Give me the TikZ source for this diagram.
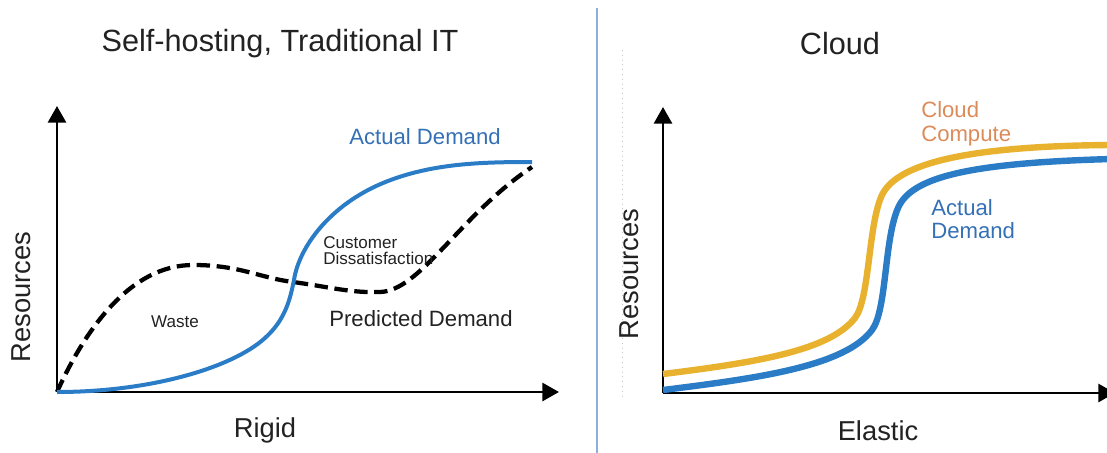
\documentclass[tikz,border=0pt]{standalone}
\usepackage{fontspec}
\setmainfont{Liberation Sans}
\usetikzlibrary{arrows.meta}
\definecolor{demandblue}{HTML}{2A7CC6}
\definecolor{computeyellow}{HTML}{E8B22E}
\definecolor{labelblue}{HTML}{3470B5}
\definecolor{labelorange}{HTML}{DB8B5A}
\definecolor{dividerblue}{HTML}{8CB0DA}
\definecolor{ink}{HTML}{222222}
\tikzstyle{axisline}=[draw,line width=2.2pt,-{Triangle[length=12.5pt,width=13.5pt]}]
\tikzstyle{actual}=[draw=demandblue,line width=3pt]
\tikzstyle{predicted}=[draw=black,line width=3.2pt,dash pattern=on 10pt off 5pt]
\tikzstyle{cloudline}=[line width=4.8pt]
\tikzstyle{heading}=[inner sep=0pt,text=ink,font=\fontsize{23}{27}\selectfont]
\tikzstyle{axistxt}=[inner sep=0pt,text=ink,font=\fontsize{20.5}{24}\selectfont]
\tikzstyle{curvetxt}=[inner sep=0pt,font=\fontsize{16.6}{18}\selectfont]
\tikzstyle{smalltxt}=[inner sep=0pt,text=ink,align=left,font=\fontsize{12.8}{12}\selectfont]

\begin{document}
\begin{tikzpicture}[x=0.75pt,y=-0.75pt]
    \useasboundingbox (0,0) rectangle (1107,453);

    % Separator between the two charts
    \draw[dividerblue,line width=1.6pt] (597,8) -- (597,453);
    \draw[gray!45,line width=0.6pt,dash pattern=on 0.6pt off 3pt] (622,50) -- (622,400);

    % Axes: origins and arrow tips
    \coordinate (o1) at (57,392);
    \coordinate (y1) at (57,106);
    \coordinate (x1) at (559,392);
    \coordinate (o2) at (663,393);
    \coordinate (y2) at (663,107);
    \coordinate (x2) at (1115,393);
    \draw[axisline] (o1) -- (y1);
    \draw[axisline] (o1) -- (x1);
    \draw[axisline] (o2) -- (y2);
    \draw[axisline] (o2) -- (x2);

    % Left chart: predicted (dashed) and actual demand
    \draw[predicted] (o1) .. controls (85,330) and (130,265) .. (193,265)
        .. controls (240,265) and (260,278) .. (293,282)
        .. controls (330,287) and (350,293) .. (380,292)
        .. controls (420,291) and (460,215) .. (532,167);
    \draw[actual] (o1) .. controls (150,392) and (232,368) .. (265,338)
        .. controls (285,320) and (290,300) .. (294,280)
        .. controls (299,247) and (330,205) .. (383,183)
        .. controls (430,163.5) and (480,162) .. (532,162);

    % Right chart: cloud capacity follows demand
    \draw[cloudline,draw=computeyellow] (663,374) .. controls (760,362) and (830,350) .. (855,318)
        .. controls (870,298) and (868,225) .. (882,195)
        .. controls (895,168) and (950,146) .. (1112,145);
    \draw[cloudline,draw=demandblue] (663,390) .. controls (760,378) and (845,366) .. (872,330)
        .. controls (887,310) and (884,240) .. (898,208)
        .. controls (911,178) and (965,163) .. (1112,159);

    % Titles and axis labels
    \node[heading,anchor=base] (selfhost) at (280,52) {Self-hosting, Traditional IT};
    \node[heading,anchor=base] (cloud) at (840,55) {Cloud};
    \node[axistxt,anchor=base,rotate=90] (res1) at (30,297) {Resources};
    \node[axistxt,anchor=base,rotate=90] (res2) at (638,274) {Resources};
    \node[axistxt,anchor=base] (rigid) at (265,437) {Rigid};
    \node[axistxt,anchor=base] (elastic) at (878,440) {Elastic};

    % Curve labels
    \node[curvetxt,text=labelblue,anchor=base] (actual1) at (425,144) {Actual Demand};
    \node[curvetxt,text=ink,anchor=base] (predicted1) at (421,326) {Predicted Demand};
    \node[smalltxt,anchor=base] (waste) at (175,327) {Waste};
    \node[smalltxt,anchor=north west] (dissat) at (323,236) {Customer\\Dissatisfaction};
    \node[curvetxt,text=labelorange,align=left,anchor=north west] (compute) at (921,101) {Cloud\\Compute};
    \node[curvetxt,text=labelblue,align=left,anchor=north west,font=\fontsize{16.6}{17.3}\selectfont] (actual2) at (931,199) {Actual\\Demand};
\end{tikzpicture}
\end{document}
